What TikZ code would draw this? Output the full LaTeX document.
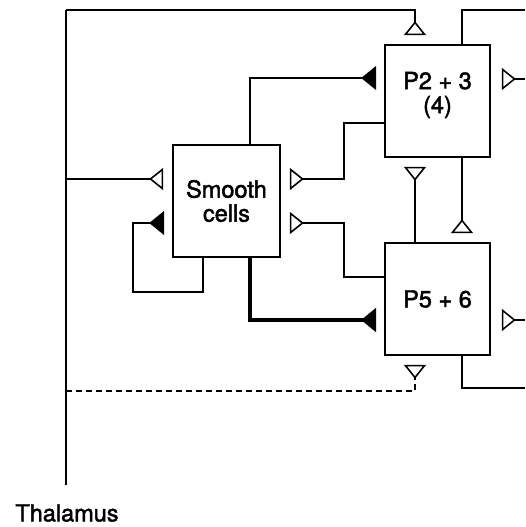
\documentclass[tikz,border=0pt]{standalone}
\usepackage{fontspec}
\setmainfont{TeX Gyre Heros}
\newfontfamily\medfont[FakeBold=2]{TeX Gyre Heros}
\usetikzlibrary{arrows.meta}

\begin{document}
\begin{tikzpicture}[x=1pt, y=-1pt, line width=1.6pt,
  cell/.style={draw, minimum width=105pt, minimum height=112pt, inner sep=0pt,
    align=center, font=\medfont\fontsize{23.5}{24}\selectfont},
  exc/.style={-{Triangle[open, reversed, length=14pt, width=22pt]}, shorten >=9pt},
  inh/.style={-{Triangle[reversed, length=15pt, width=24pt]}, shorten >=8pt}]

  \useasboundingbox (0,0) rectangle (525,527);

  % --- 1. 細胞ブロック ---
  \node[cell, text depth=17pt] (p23) at (437.5,101) {P2 + 3\\(4)};
  \node[cell, minimum width=107pt] (smooth) at (226.5,201) {Smooth\\cells};
  \node[cell] (p56) at (437.5,299) {P5 + 6};

  % --- 2. 視床からの入力線 ---
  \node[font=\medfont\fontsize{23.5}{24}\selectfont] (thal) at (67,513) {Thalamus};
  \coordinate (tTop) at (66,10);
  \coordinate (tBot) at (66,485);
  \coordinate (tSm) at (66,179);
  \coordinate (tDash) at (66,391);
  \draw (tTop) -- (tBot);

  \draw[exc] (tTop) -| ([xshift=-22.5pt]p23.north);
  \draw[exc] (tSm) -- ([yshift=22pt]smooth.west);
  \draw[exc, dash pattern=on 6pt off 4pt] (tDash) -| ([xshift=-22.5pt]p56.south);

  % --- 3. Smooth cells の結合 ---
  % 自己抑制ループ
  \draw[inh] ([xshift=-23.5pt]smooth.south) |- (133,292) |- ([yshift=-22pt]smooth.west);
  % 抑制 (黒三角)
  \draw[inh] ([xshift=23.5pt]smooth.north) |- ([yshift=23pt]p23.west);
  \draw[inh, line width=3.2pt] ([xshift=23.5pt]smooth.south) |- ([yshift=-21pt]p56.west);
  % 興奮 (白三角)
  \draw[exc] ([yshift=-22pt]p23.west) -- ++(-40,0) |- ([yshift=22pt]smooth.east);
  \draw[exc] ([yshift=22pt]p56.west) -- ++(-40,0) |- ([yshift=-22pt]smooth.east);

  % --- 4. P2+3 と P5+6 の間 ---
  \draw[exc] ([xshift=-22.5pt]p56.north) -- ([xshift=-22.5pt]p23.south);
  \draw[exc] ([xshift=24.5pt]p23.south) -- ([xshift=24.5pt]p56.north);

  % --- 5. 右側への出入り ---
  \coordinate (rTop) at (525,10);
  \coordinate (rIn23) at (525,79);
  \coordinate (rIn56) at (525,320);
  \coordinate (rBot) at (525,388);
  \draw ([xshift=24.5pt]p23.north) |- (rTop);
  \draw[exc, shorten >=11pt] (rIn23) -- (p23.east |- rIn23);
  \draw[exc, shorten >=11pt] (rIn56) -- (p56.east |- rIn56);
  \draw ([xshift=24.5pt]p56.south) |- (rBot);

\end{tikzpicture}
\end{document}
